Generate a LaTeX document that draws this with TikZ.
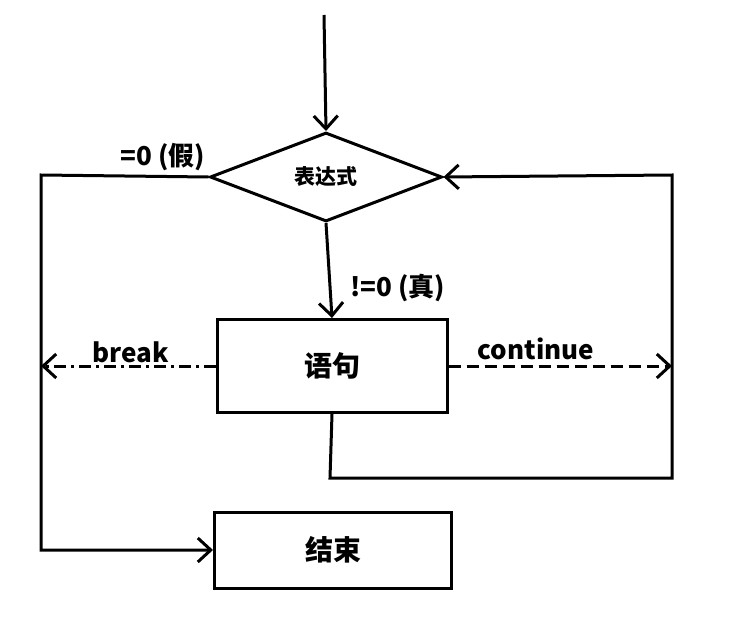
\documentclass[tikz,border=0pt]{standalone}
\usepackage{fontspec}
\setmainfont{Noto Sans CJK SC}
\usetikzlibrary{shapes.geometric,arrows.meta}
\begin{document}
\begin{tikzpicture}[x=1pt,y=-1pt,>={Straight Barb[length=13pt,width=24pt]},line width=3pt,
  font=\bfseries\fontsize{28}{32}\selectfont,
  blk/.style={draw,rectangle,minimum width=230pt,minimum height=93pt,inner sep=0pt},
  lbl/.style={font=\bfseries\fontsize{26}{30}\selectfont}]
\useasboundingbox (0,0) rectangle (755,626);
\coordinate (start) at (324,15);
\node[draw,diamond,aspect=2.6,minimum width=232pt,minimum height=89pt,inner sep=0pt,
  font=\bfseries\fontsize{21}{24}\selectfont] (expr) at (326,177) {表达式};
\node[blk] (stmt) at (332,366) {语句};
\node[blk,minimum width=237pt,minimum height=76pt] (end) at (333,550) {结束};
\coordinate (lt) at (41,175);
\coordinate (rt) at (672,175);
\coordinate (lb) at (330,478);
% labels
\node[lbl] (false) at (163,157) {=0 (假)};
\node[lbl] (true) at (398,288) {!=0 (真)};
\node[lbl] (brk) at (131,352) {break};
\node[lbl] (cnt) at (536,349) {continue};
% flow
\draw[->](start)--(expr.north);
\draw[->](expr.south)--(stmt.north);
\draw[->](expr.west)--(lt)|-(end.west);
\draw[->,dash pattern=on 12pt off 5pt on 3pt off 5pt](stmt.west)--(stmt.west-|lt);
\draw[->,dash pattern=on 12pt off 6pt](stmt.east)--(stmt.east-|rt);
\draw[->](stmt.south)--(lb)-|(rt)--(expr.east);
    \end{tikzpicture}
\end{document}
